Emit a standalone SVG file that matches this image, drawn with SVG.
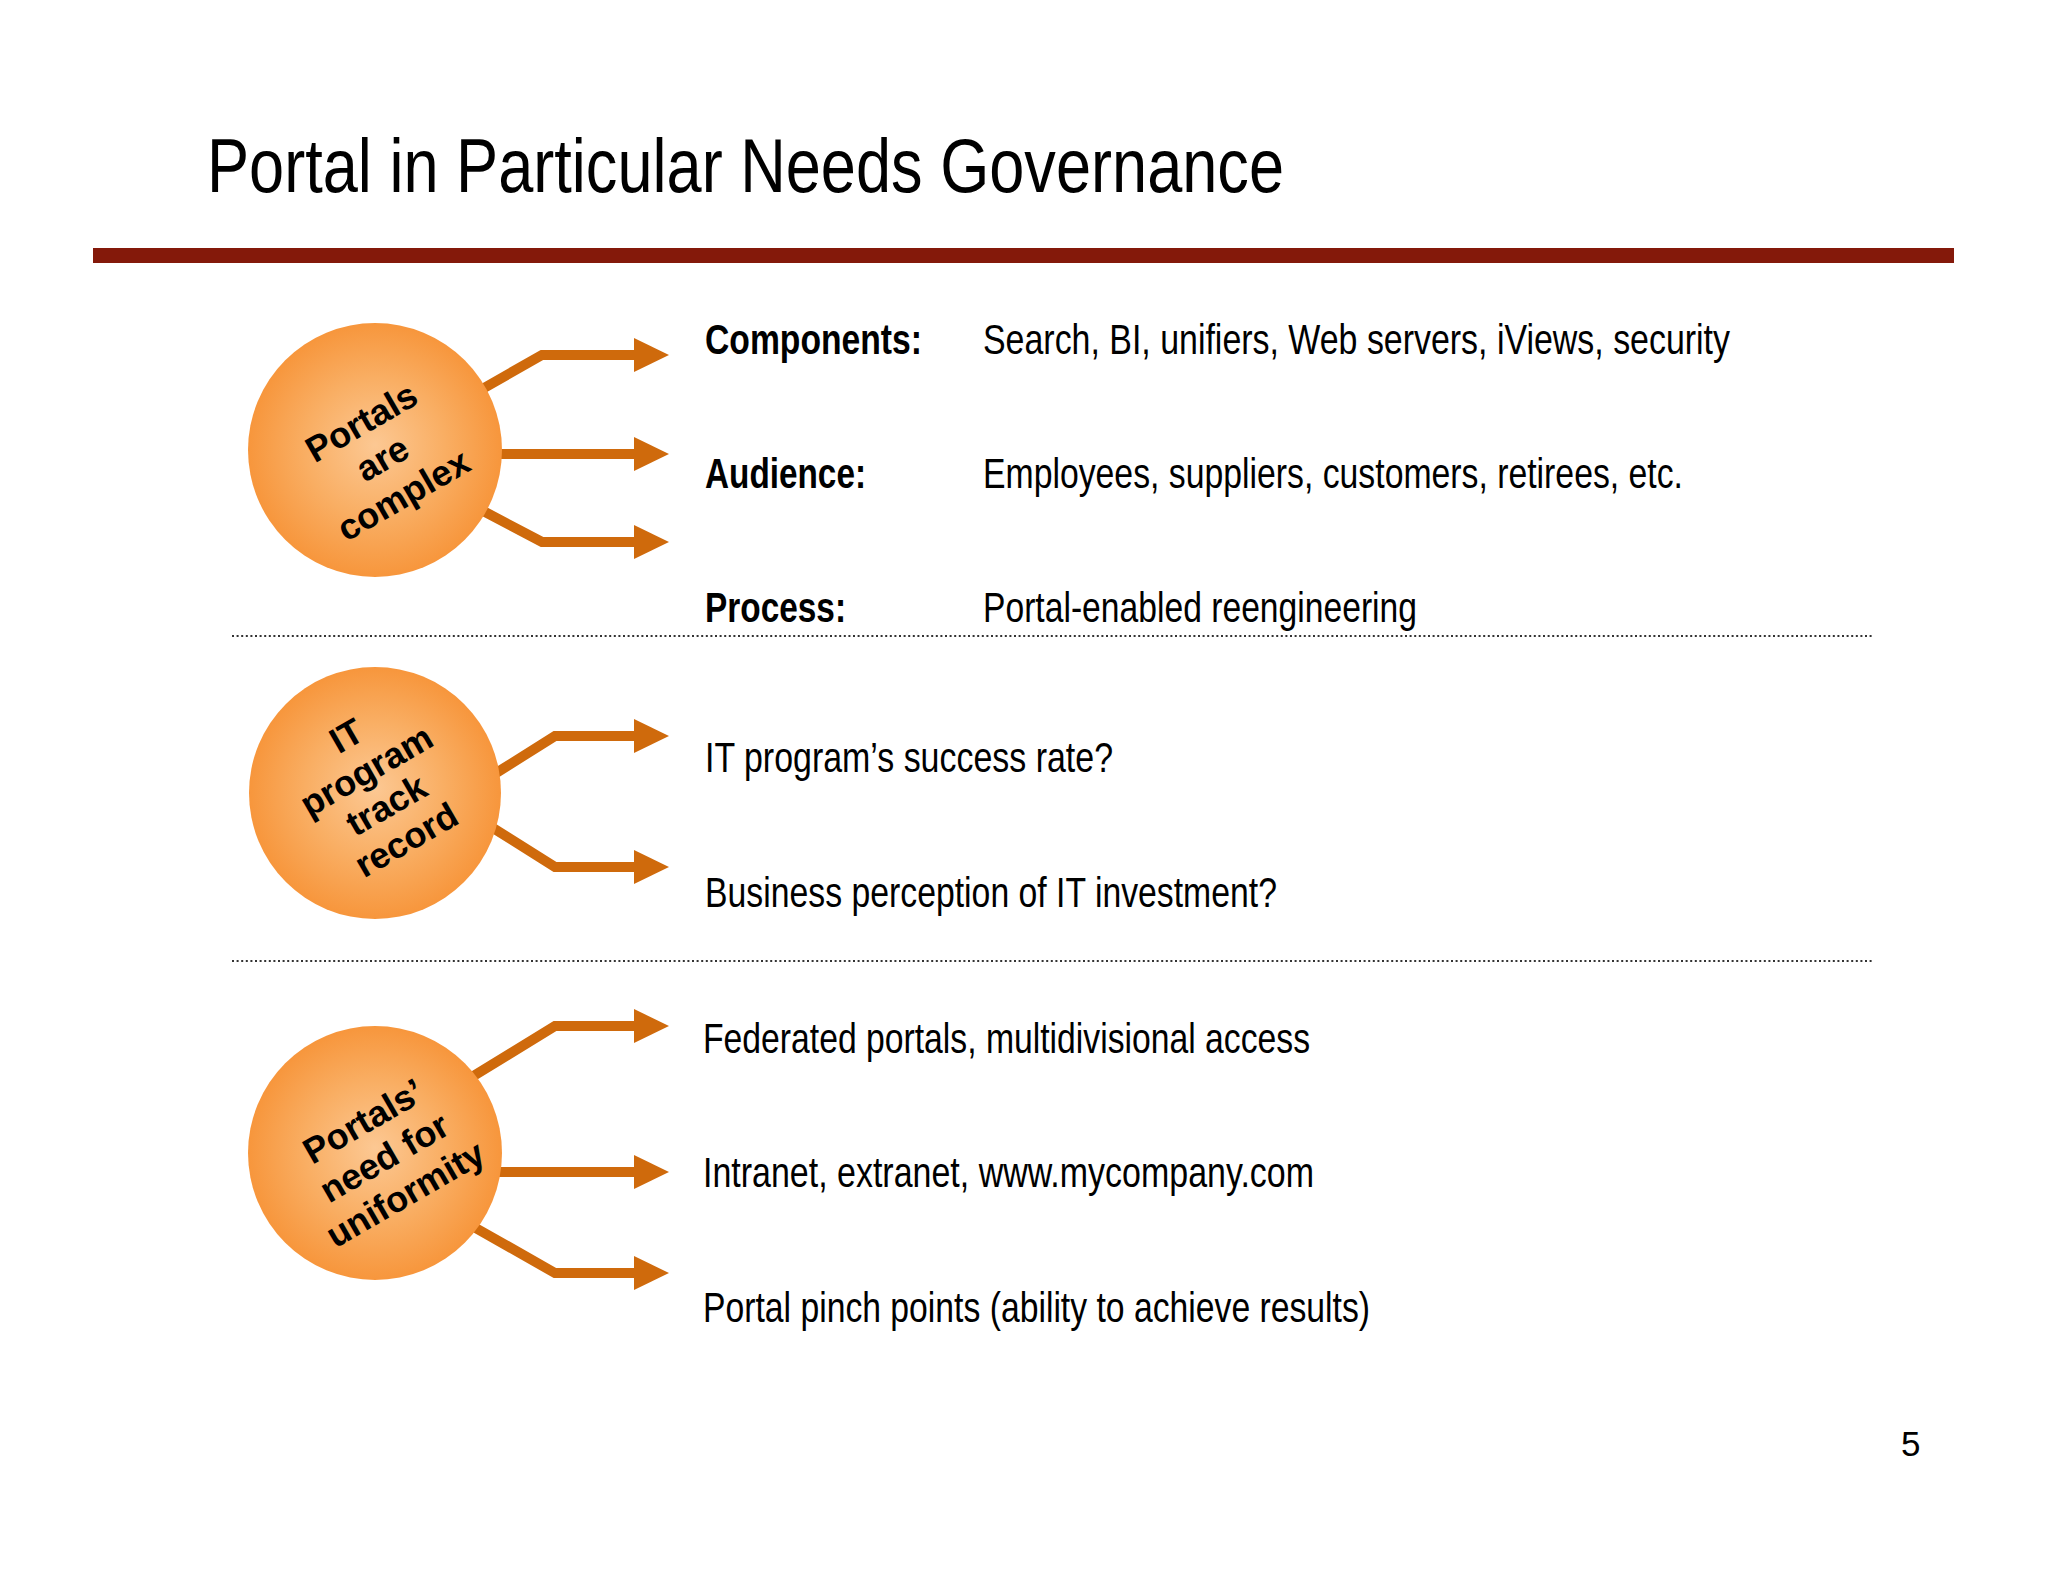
<svg xmlns="http://www.w3.org/2000/svg" width="2048" height="1582" viewBox="0 0 2048 1582">
  <defs>
    <radialGradient id="ball" cx="50%" cy="50%" r="50%" fx="50%" fy="48%">
      <stop offset="0" stop-color="#FCC893"/>
      <stop offset="0.55" stop-color="#F9AE63"/>
      <stop offset="1" stop-color="#F7963C"/>
    </radialGradient>
    <marker id="head" markerUnits="userSpaceOnUse" markerWidth="38" markerHeight="36" refX="0" refY="18" orient="auto" overflow="visible">
      <path d="M0,1 L35,18 L0,35 Z" fill="#CF6A0C"/>
    </marker>
  </defs>
  <style>
    .arrow { fill: none; stroke: #CF6A0C; stroke-width: 10; stroke-linejoin: miter; marker-end: url(#head); }
    .ball { fill: url(#ball); }
    .btxt { font-family: "Liberation Sans", Arial, sans-serif; font-weight: bold; font-size: 36px; fill: #000; text-anchor: middle; }
    .lbl { font-family: "Liberation Sans", Arial, sans-serif; font-weight: bold; font-size: 42px; fill: #000; }
    .txt { font-family: "Liberation Sans", Arial, sans-serif; font-size: 42px; fill: #000; }
    .dots { stroke: #333; stroke-width: 2; stroke-dasharray: 2 2.6; fill: none; }
  </style>
  <rect x="0" y="0" width="2048" height="1582" fill="#FFFFFF"/>

  <g id="title">
    <text x="207" y="192" font-family="'Liberation Sans', Arial, sans-serif" font-size="76" textLength="1077" lengthAdjust="spacingAndGlyphs">Portal in Particular Needs Governance</text>
    <rect x="93" y="248" width="1861" height="15" fill="#84190A"/>
  </g>

  <g id="separators">
    <line class="dots" x1="232" y1="636" x2="1874" y2="636"/>
    <line class="dots" x1="232" y1="961" x2="1874" y2="961"/>
  </g>

  <g id="connectors">
    <polyline class="arrow" points="470,396 542,355 634,355"/>
    <polyline class="arrow" points="495,454 634,454"/>
    <polyline class="arrow" points="470,504 542,542 634,542"/>

    <polyline class="arrow" points="485,780 555,736 634,736"/>
    <polyline class="arrow" points="485,823 555,867 634,867"/>

    <polyline class="arrow" points="462,1083 555,1026 634,1026"/>
    <polyline class="arrow" points="495,1172 634,1172"/>
    <polyline class="arrow" points="465,1222 555,1273 634,1273"/>
  </g>

  <g id="node-complex">
    <circle class="ball" cx="375" cy="450" r="127"/>
    <g transform="translate(382,458) rotate(-30)">
      <text class="btxt" x="0" y="-29">Portals</text>
      <text class="btxt" x="0" y="13">are</text>
      <text class="btxt" x="0" y="55">complex</text>
    </g>
  </g>

  <g id="node-track">
    <circle class="ball" cx="375" cy="793" r="126"/>
    <g transform="translate(377,789) rotate(-30)">
      <text class="btxt" x="0" y="-49">IT</text>
      <text class="btxt" x="0" y="-9">program</text>
      <text class="btxt" x="0" y="31">track</text>
      <text class="btxt" x="0" y="71">record</text>
    </g>
  </g>

  <g id="node-uniformity">
    <circle class="ball" cx="375" cy="1153" r="127"/>
    <g transform="translate(384,1157) rotate(-30)">
      <text class="btxt" x="0" y="-29">Portals’</text>
      <text class="btxt" x="0" y="13">need for</text>
      <text class="btxt" x="0" y="55">uniformity</text>
    </g>
  </g>

  <g id="text-complex">
    <text class="lbl" x="705" y="354" textLength="217" lengthAdjust="spacingAndGlyphs">Components:</text>
    <text class="txt" x="983" y="354" textLength="747" lengthAdjust="spacingAndGlyphs">Search, BI, unifiers, Web servers, iViews, security</text>
    <text class="lbl" x="705" y="488" textLength="161" lengthAdjust="spacingAndGlyphs">Audience:</text>
    <text class="txt" x="983" y="488" textLength="700" lengthAdjust="spacingAndGlyphs">Employees, suppliers, customers, retirees, etc.</text>
    <text class="lbl" x="705" y="622" textLength="141" lengthAdjust="spacingAndGlyphs">Process:</text>
    <text class="txt" x="983" y="622" textLength="434" lengthAdjust="spacingAndGlyphs">Portal-enabled reengineering</text>
  </g>

  <g id="text-track">
    <text class="txt" x="705" y="772" textLength="408" lengthAdjust="spacingAndGlyphs">IT program’s success rate?</text>
    <text class="txt" x="705" y="907" textLength="572" lengthAdjust="spacingAndGlyphs">Business perception of IT investment?</text>
  </g>

  <g id="text-uniformity">
    <text class="txt" x="703" y="1053" textLength="607" lengthAdjust="spacingAndGlyphs">Federated portals, multidivisional access</text>
    <text class="txt" x="703" y="1187" textLength="611" lengthAdjust="spacingAndGlyphs">Intranet, extranet, www.mycompany.com</text>
    <text class="txt" x="703" y="1322" textLength="667" lengthAdjust="spacingAndGlyphs">Portal pinch points (ability to achieve results)</text>
  </g>

  <g id="page-number">
    <text x="1901" y="1456" font-family="'Liberation Sans', Arial, sans-serif" font-size="35">5</text>
  </g>
</svg>
